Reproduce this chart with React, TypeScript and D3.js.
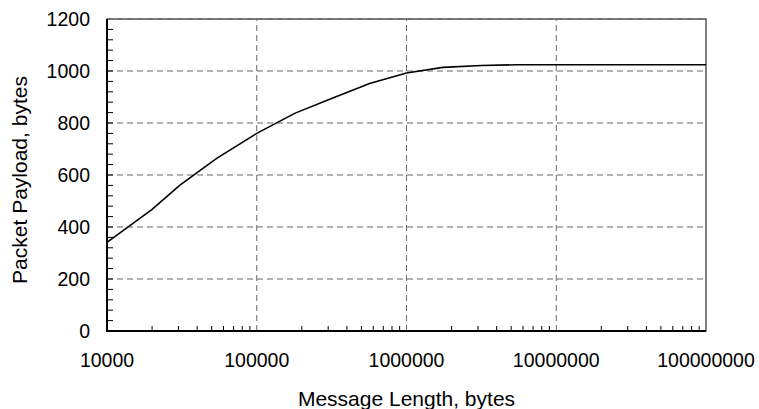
import * as d3 from 'd3'

const messageLengths = [1e4, 2e4, 3.07e4, 5.4e4, 1e5, 1.79e5, 3.16e5, 5.67e5, 1e6, 1.75e6, 3.16e6, 5.5e6, 1e7, 1e8]
const payloads = [341, 468, 561, 664, 760, 837, 894, 952, 992, 1014, 1021, 1024, 1024, 1024]
const xTicks = [1e4, 1e5, 1e6, 1e7, 1e8]
const yTicks = [0, 200, 400, 600, 800, 1000, 1200]

export default function App() {
    const width = 759
    const height = 409
    const margin = { top: 19, right: 53, bottom: 78, left: 107 }
    const x = d3.scaleLog().domain([1e4, 1e8]).range([margin.left, width - margin.right])
    const y = d3.scaleLinear().domain([0, 1200]).range([height - margin.bottom, margin.top])

    const line = d3.line<number>()
        .x((d, i) => x(messageLengths[i]))
        .y((d) => y(d))

    const minorX: number[] = []
    for (let p = 4; p < 8; p++) {
        for (let m = 2; m < 10; m++) minorX.push(m * Math.pow(10, p))
    }
    const minorY = d3.range(40, 1200, 40)
    const font = '"Liberation Sans", Arial, sans-serif'
    const x0 = x.range()[0], x1 = x.range()[1]
    const y0 = y.range()[0], y1 = y.range()[1]

    return (
        <svg width={width} height={height} style={{ position: 'absolute', left: 0, top: 0, background: '#fff' }} fontFamily={font}>
            <rect x={x0} y={y1} width={x1 - x0} height={y0 - y1} fill="none" stroke="#000" strokeWidth={1} />
            {yTicks.slice(1).map((t) => (
                <line key={'gy' + t} x1={x0} x2={x1} y1={y(t)} y2={y(t)} stroke="#666" strokeDasharray="6,4" strokeWidth={1} />
            ))}
            {xTicks.slice(1, -1).map((t) => (
                <line key={'gx' + t} x1={x(t)} x2={x(t)} y1={y0} y2={y1} stroke="#666" strokeDasharray="6,4" strokeWidth={1} />
            ))}
            {minorY.map((t) => (
                <line key={'my' + t} x1={x0} x2={x0 + 6} y1={y(t)} y2={y(t)} stroke="#000" strokeWidth={1} />
            ))}
            {minorX.map((t) => (
                <line key={'mx' + t} x1={x(t)} x2={x(t)} y1={y0} y2={y0 - 5} stroke="#000" strokeWidth={1} />
            ))}
            <line x1={x0} x2={x0} y1={y1} y2={y0 + 1} stroke="#000" strokeWidth={2} />
            <line x1={x0 - 1} x2={x1} y1={y0} y2={y0} stroke="#000" strokeWidth={2} />
            <path d={line(payloads) || ''} fill="none" stroke="#000" strokeWidth={1.6} />
            {yTicks.map((t) => (
                <text key={'ty' + t} x={x0 - 17} y={y(t)} dy="0.36em" textAnchor="end" fontSize={19.5}>{t}</text>
            ))}
            {xTicks.map((t) => (
                <text key={'tx' + t} x={x(t)} y={y0 + 36} textAnchor="middle" fontSize={19.5}>{String(t)}</text>
            ))}
            <text x={(x0 + x1) / 2} y={406} textAnchor="middle" fontSize={21}>Message Length, bytes</text>
            <text transform={`translate(27, 180) rotate(-90)`} textAnchor="middle" fontSize={21}>Packet Payload, bytes</text>
        </svg>
    )
}
